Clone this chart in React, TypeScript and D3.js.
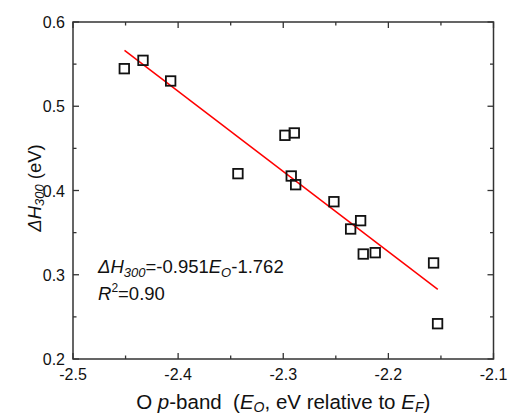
import React from "react";
import * as d3 from "d3";

const eO = [-2.4512, -2.4334, -2.4071, -2.3431, -2.2984, -2.2895, -2.2924, -2.2882, -2.2518, -2.2264, -2.2359, -2.2239, -2.2125, -2.157, -2.1532];
const dH = [0.5446, 0.5545, 0.530, 0.420, 0.4655, 0.4683, 0.4172, 0.4069, 0.3867, 0.3642, 0.3543, 0.3246, 0.3262, 0.314, 0.2419];
const fitX = [-2.451, -2.153];
const fitY = [0.5664, 0.2827];
const xTicks = [-2.5, -2.4, -2.3, -2.2, -2.1];
const xMinor = [-2.45, -2.35, -2.25, -2.15];
const yTicks = [0.2, 0.3, 0.4, 0.5, 0.6];
const yMinor = [0.25, 0.35, 0.45, 0.55];

const W = 508, H = 416;
const L = 73, R = 493.5, T = 22, B = 359;
const FONT = "'Liberation Sans', Arial, sans-serif";
const AX = "#333";

export default function App() {
  const x = d3.scaleLinear().domain([-2.5, -2.1]).range([L, R]);
  const y = d3.scaleLinear().domain([0.2, 0.6]).range([B, T]);
  const line = d3.line<number>().x((d) => x(d)).y((_, i) => y(fitY[i]));
  const sq = 9.5;
  return (
    <svg width={W} height={H} style={{ position: "absolute", left: 0, top: 0, background: "#fff" }} fontFamily={FONT}>
      <rect x={0} y={0} width={W} height={H} fill="#fff" />
      {xTicks.map((t) => (
        <g key={"xt" + t}>
          <line x1={x(t)} x2={x(t)} y1={B} y2={B - 6} stroke={AX} strokeWidth={1.3} />
          <line x1={x(t)} x2={x(t)} y1={T} y2={T + 6} stroke={AX} strokeWidth={1.3} />
          <text x={x(t)} y={380} fontSize={16} textAnchor="middle" fill="#111">{t.toFixed(1)}</text>
        </g>
      ))}
      {xMinor.map((t) => (
        <g key={"xm" + t}>
          <line x1={x(t)} x2={x(t)} y1={B} y2={B - 3.5} stroke={AX} strokeWidth={1.3} />
          <line x1={x(t)} x2={x(t)} y1={T} y2={T + 3.5} stroke={AX} strokeWidth={1.3} />
        </g>
      ))}
      {yTicks.map((t) => (
        <g key={"yt" + t}>
          <line x1={L} x2={L + 6} y1={y(t)} y2={y(t)} stroke={AX} strokeWidth={1.3} />
          <line x1={R} x2={R - 6} y1={y(t)} y2={y(t)} stroke={AX} strokeWidth={1.3} />
          <text x={65} y={y(t) + 6} fontSize={16} textAnchor="end" fill="#111">{t.toFixed(1)}</text>
        </g>
      ))}
      {yMinor.map((t) => (
        <g key={"ym" + t}>
          <line x1={L} x2={L + 3.5} y1={y(t)} y2={y(t)} stroke={AX} strokeWidth={1.3} />
          <line x1={R} x2={R - 3.5} y1={y(t)} y2={y(t)} stroke={AX} strokeWidth={1.3} />
        </g>
      ))}
      <rect x={L} y={T} width={R - L} height={B - T} fill="none" stroke={AX} strokeWidth={1.5} />
      <path d={line(fitX) || ""} fill="none" stroke="#f00" strokeWidth={1.5} />
      {eO.map((v, i) => (
        <rect key={i} x={x(v) - sq / 2} y={y(dH[i]) - sq / 2} width={sq} height={sq} fill="none" stroke="#111" strokeWidth={1.8} />
      ))}
      <text x={98} y={273} fontSize={18.5} fill="#111">
        <tspan fontStyle="italic">ΔH</tspan>
        <tspan fontStyle="italic" fontSize={13} dy={4}>300</tspan>
        <tspan dy={-4}>=-0.951</tspan>
        <tspan fontStyle="italic">E</tspan>
        <tspan fontStyle="italic" fontSize={13} dy={4}>O</tspan>
        <tspan dy={-4}>-1.762</tspan>
      </text>
      <text x={98} y={300} fontSize={18.5} fill="#111">
        <tspan fontStyle="italic">R</tspan>
        <tspan fontSize={12} dy={-8}>2</tspan>
        <tspan dy={8}>=0.90</tspan>
      </text>
      <text x={(L + R) / 2} y={409} fontSize={20.5} textAnchor="middle" fill="#111" style={{ whiteSpace: "pre" }}>
        <tspan>O </tspan>
        <tspan fontStyle="italic">p</tspan>
        <tspan>-band  (</tspan>
        <tspan fontStyle="italic">E</tspan>
        <tspan fontStyle="italic" fontSize={14} dy={3}>O</tspan>
        <tspan dy={-3}>, eV relative to </tspan>
        <tspan fontStyle="italic">E</tspan>
        <tspan fontStyle="italic" fontSize={14} dy={3}>F</tspan>
        <tspan dy={-3}>)</tspan>
      </text>
      <text transform={`translate(41,${188}) rotate(-90)`} fontSize={18.5} textAnchor="middle" fill="#111">
        <tspan fontStyle="italic">ΔH</tspan>
        <tspan fontStyle="italic" fontSize={13} dy={3}>300</tspan>
        <tspan dy={-3}> (eV)</tspan>
      </text>
    </svg>
  );
}
